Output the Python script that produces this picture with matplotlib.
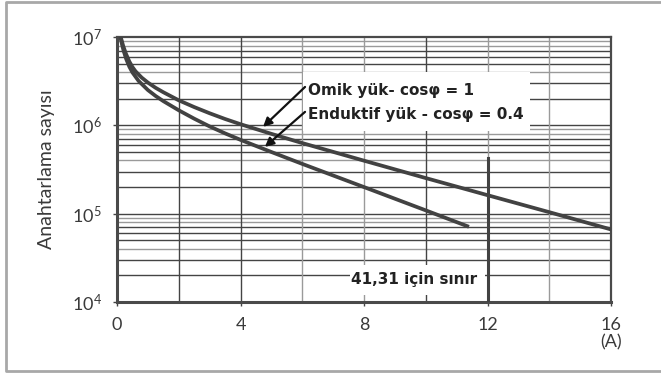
import numpy as np
import matplotlib
matplotlib.use("Agg")
import matplotlib.pyplot as plt
from matplotlib.patches import Rectangle
from matplotlib.lines import Line2D

plt.rcParams['font.family'] = ['Lato', 'DejaVu Sans']
plt.rcParams['mathtext.fontset'] = 'custom'
plt.rcParams['mathtext.rm'] = 'Lato'
plt.rcParams['mathtext.it'] = 'Lato:italic'
plt.rcParams['mathtext.bf'] = 'Lato:bold'

# current (A) vs number of switching operations
omik_x = [0.12, 0.2, 0.29, 0.4, 0.5, 0.6, 0.8, 1.0, 1.25, 1.5, 2.0, 2.5, 3.0, 3.5, 4.0,
          5.0, 6.0, 8.0, 10.0, 12.0, 14.0, 16.0]
omik_y = [1.0e7, 7.94e6, 6.46e6, 5.27e6, 4.57e6, 4.09e6, 3.47e6, 3.05e6, 2.66e6, 2.37e6,
          1.92e6, 1.61e6, 1.37e6, 1.18e6, 1.03e6, 8.01e5, 6.30e5, 3.98e5, 2.53e5, 1.62e5,
          1.04e5, 6.63e4]

ind_x = [0.11, 0.17, 0.22, 0.3, 0.4, 0.5, 0.7, 1.0, 1.25, 1.5, 2.0, 2.5, 3.0, 3.5, 4.0,
         5.0, 6.0, 8.0, 10.0, 11.4]
ind_y = [1.0e7, 8.02e6, 6.87e6, 5.61e6, 4.61e6, 3.97e6, 3.18e6, 2.51e6, 2.15e6, 1.88e6,
         1.48e6, 1.19e6, 9.72e5, 8.11e5, 6.85e5, 4.99e5, 3.66e5, 2.0e5, 1.09e5, 7.10e4]

limit_x = 12
limit_top = 4.3e5

x_ticks = [0, 4, 8, 12, 16]
x_labels = ['0', '4', '8', '12', '16\n(A)']
y_ticks = [1e4, 1e5, 1e6, 1e7]
y_labels = ['$10^{4}$', '$10^{5}$', '$10^{6}$', '$10^{7}$']

dark = '#444444'
light = '#9a9a9a'
ink = '#3a3a3a'
bold_font = ['DejaVu Sans']

fig = plt.figure(figsize=(6.61, 3.74), dpi=100)
ax = fig.add_axes([117 / 661, 1 - 302 / 374, 494 / 661, 265 / 374])
ax.set_yscale('log')
ax.set_xlim(0, 16)
ax.set_ylim(1e4, 1e7)

# grid: decade lines, log minor lines, vertical lines every 2 A
for dec in [1e4, 1e5, 1e6]:
    for m in range(1, 10):
        c = light if m in (4, 8, 9) else dark
        ax.axhline(dec * m, color=c, lw=1.0, zorder=0.5)
for gx in range(2, 16, 2):
    c = light if gx in (6, 8, 12, 14) else dark
    ax.axvline(gx, color=c, lw=1.0, zorder=0.5)

# white label backgrounds
ax.add_patch(Rectangle((6.02, 8.6e5), 7.36, 4.0e6 - 8.6e5, facecolor='white',
                       edgecolor='none', zorder=1))
ax.add_patch(Rectangle((7.55, 1.2e4), 4.37, 2.6e4 - 1.2e4, facecolor='white',
                       edgecolor='none', zorder=1))

ax.plot(omik_x, omik_y, color='#424242', lw=2.7, solid_capstyle='butt', zorder=3)
ax.plot(ind_x, ind_y, color='#424242', lw=2.7, solid_capstyle='butt', zorder=3)
ax.plot([limit_x, limit_x], [1e4, limit_top], color='#424242', lw=2.2, zorder=3)

ax.text(6.19, 2.45e6, 'Omik yük- cos\u03c6 = 1', fontsize=11, fontweight='bold',
        family=bold_font, color='#222222', va='center', ha='left', zorder=4)
ax.text(6.19, 1.34e6, 'Enduktif yük - cos\u03c6 = 0.4', fontsize=11, fontweight='bold',
        family=bold_font, color='#222222', va='center', ha='left', zorder=4)
ax.text(9.62, 1.82e4, '41,31 için sınır', fontsize=11, fontweight='bold',
        family=bold_font, color='#222222', va='center', ha='center', zorder=4)

arrow = dict(arrowstyle='-|>', color='#111111', lw=1.6, mutation_scale=13,
             shrinkA=0, shrinkB=0)
ax.annotate('', xy=(4.73, 9.6e5), xytext=(6.09, 2.72e6), arrowprops=arrow, zorder=4)
ax.annotate('', xy=(4.79, 5.7e5), xytext=(6.09, 1.42e6), arrowprops=arrow, zorder=4)

ax.set_xticks(x_ticks)
ax.set_xticklabels(x_labels, fontsize=13, color=ink, linespacing=1.1)
ax.set_yticks(y_ticks)
ax.set_yticklabels(y_labels, fontsize=13, color=ink)
ax.yaxis.set_minor_locator(matplotlib.ticker.NullLocator())
ax.tick_params(axis='both', length=3, width=1, color=dark, pad=8)

ax.set_ylabel('Anahtarlama sayısı', fontsize=14, color=ink, labelpad=12)

for side in ['left', 'bottom']:
    ax.spines[side].set_linewidth(2.2)
    ax.spines[side].set_color('#4a4a4a')
for side in ['top', 'right']:
    ax.spines[side].set_linewidth(1.6)
    ax.spines[side].set_color('#4a4a4a')

# light frame round the figure (open on the right, as in the scan)
fx0, fx1 = 5.5 / 661, 1.0
fy0, fy1 = 1 - 371 / 374, 1 - 2 / 374
fig.lines.append(Line2D([fx1, fx0, fx0, fx1], [fy1, fy1, fy0, fy0],
                        transform=fig.transFigure, color='#a8a8a8', lw=2))

fig.savefig('out.png', dpi=100)
